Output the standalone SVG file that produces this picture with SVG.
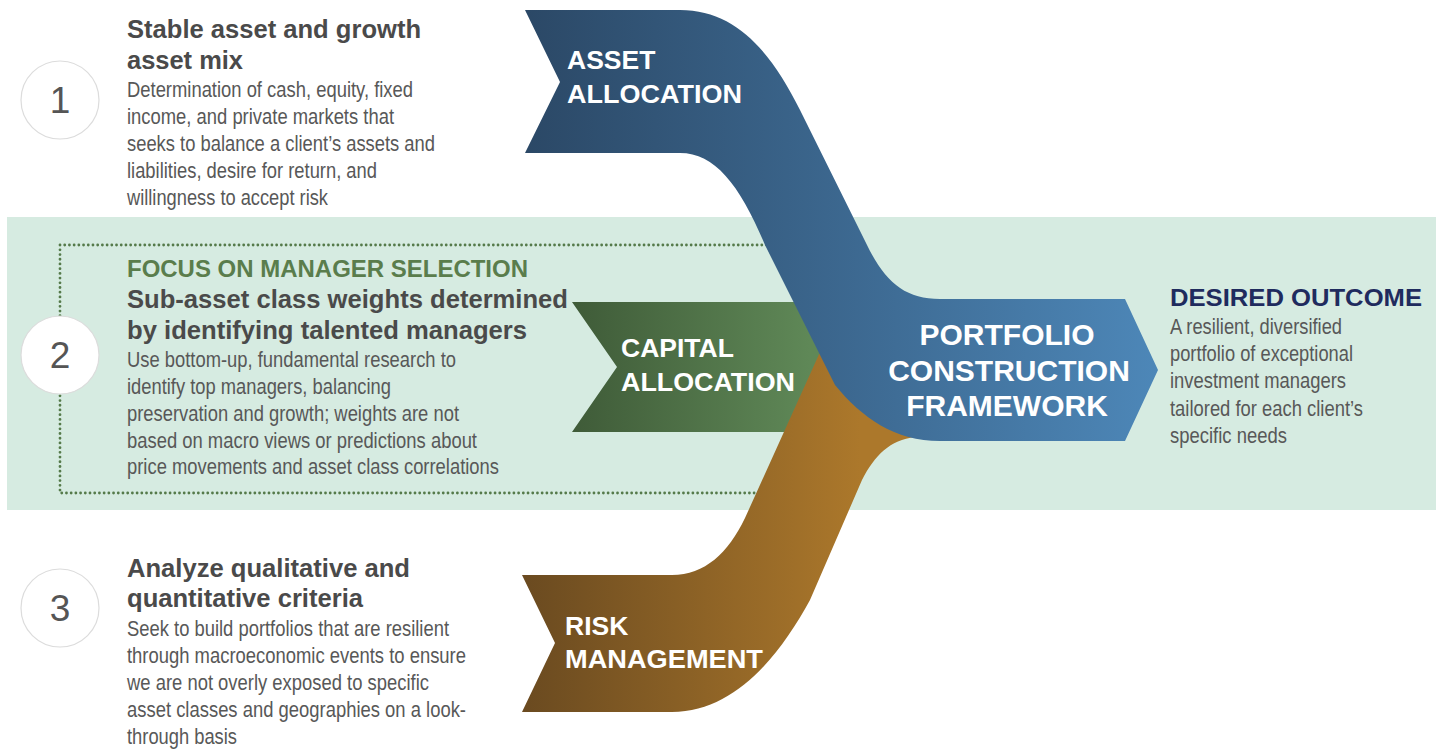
<svg xmlns="http://www.w3.org/2000/svg" width="1440" height="750" viewBox="0 0 1440 750">
<style>
.t{font-family:"Liberation Sans",Arial,sans-serif;font-weight:bold;font-size:25.5px;fill:#4a4a4a}
.b{font-family:"Liberation Sans",Arial,sans-serif;font-size:21.5px;fill:#585858}
.g{font-family:"Liberation Sans",Arial,sans-serif;font-weight:bold;font-size:23px;fill:#5a7d4c}
.d{font-family:"Liberation Sans",Arial,sans-serif;font-weight:bold;font-size:24px;fill:#1f2b5e}
.w{font-family:"Liberation Sans",Arial,sans-serif;font-weight:bold;font-size:26.5px;fill:#ffffff}
.p{font-family:"Liberation Sans",Arial,sans-serif;font-weight:bold;font-size:30px;fill:#ffffff;text-anchor:middle}
.n{font-family:"Liberation Sans",Arial,sans-serif;font-size:37px;fill:#555555;text-anchor:middle}
.c{fill:#ffffff;stroke:#dcdcdc;stroke-width:1.2}
</style>
<defs>
<linearGradient id="gBlue" gradientUnits="userSpaceOnUse" x1="525" y1="0" x2="1158" y2="0">
<stop offset="0" stop-color="#2b4866"/><stop offset="1" stop-color="#4d87b8"/>
</linearGradient>
<linearGradient id="gGreen" gradientUnits="userSpaceOnUse" x1="572" y1="0" x2="810" y2="0">
<stop offset="0" stop-color="#3f5b38"/><stop offset="1" stop-color="#5f8857"/>
</linearGradient>
<linearGradient id="gBrown" gradientUnits="userSpaceOnUse" x1="522" y1="0" x2="860" y2="0">
<stop offset="0" stop-color="#6a4a20"/><stop offset="1" stop-color="#ac782b"/>
</linearGradient>
</defs>
<rect width="1440" height="750" fill="#ffffff"/>
<rect id="band" x="7" y="217" width="1429" height="293" fill="#d6ebe1"/>
<rect id="focus-box" x="60" y="245" width="760" height="248" fill="none" stroke="#557a4a" stroke-width="2.8" stroke-linecap="round" stroke-dasharray="0.01 4.7"/>

<g id="step1">
<circle class="c" cx="60" cy="100" r="39"/>
<text class="n" x="60" y="113">1</text>
<text class="t" x="127" y="38" textLength="294" lengthAdjust="spacingAndGlyphs">Stable asset and growth</text>
<text class="t" x="127" y="69" textLength="116" lengthAdjust="spacingAndGlyphs">asset mix</text>
<text class="b" x="127" y="97" textLength="286" lengthAdjust="spacingAndGlyphs">Determination of cash, equity, fixed</text>
<text class="b" x="127" y="124" textLength="267" lengthAdjust="spacingAndGlyphs">income, and private markets that</text>
<text class="b" x="127" y="151" textLength="308" lengthAdjust="spacingAndGlyphs">seeks to balance a client’s assets and</text>
<text class="b" x="127" y="178" textLength="250" lengthAdjust="spacingAndGlyphs">liabilities, desire for return, and</text>
<text class="b" x="127" y="205" textLength="201" lengthAdjust="spacingAndGlyphs">willingness to accept risk</text>
</g>

<g id="step2">
<circle class="c" cx="60" cy="355" r="39"/>
<text class="n" x="60" y="368">2</text>
<text class="g" x="127" y="277" textLength="401" lengthAdjust="spacingAndGlyphs">FOCUS ON MANAGER SELECTION</text>
<text class="t" x="127" y="308" textLength="441" lengthAdjust="spacingAndGlyphs">Sub-asset class weights determined</text>
<text class="t" x="127" y="339" textLength="400" lengthAdjust="spacingAndGlyphs">by identifying talented managers</text>
<text class="b" x="127" y="367" textLength="329" lengthAdjust="spacingAndGlyphs">Use bottom-up, fundamental research to</text>
<text class="b" x="127" y="394" textLength="264" lengthAdjust="spacingAndGlyphs">identify top managers, balancing</text>
<text class="b" x="127" y="421" textLength="332" lengthAdjust="spacingAndGlyphs">preservation and growth; weights are not</text>
<text class="b" x="127" y="448" textLength="350" lengthAdjust="spacingAndGlyphs">based on macro views or predictions about</text>
<text class="b" x="127" y="474" textLength="372" lengthAdjust="spacingAndGlyphs">price movements and asset class correlations</text>
</g>

<g id="step3">
<circle class="c" cx="60" cy="608" r="39"/>
<text class="n" x="60" y="621">3</text>
<text class="t" x="127" y="577" textLength="283" lengthAdjust="spacingAndGlyphs">Analyze qualitative and</text>
<text class="t" x="127" y="607" textLength="236" lengthAdjust="spacingAndGlyphs">quantitative criteria</text>
<text class="b" x="127" y="636" textLength="322" lengthAdjust="spacingAndGlyphs">Seek to build portfolios that are resilient</text>
<text class="b" x="127" y="663" textLength="339" lengthAdjust="spacingAndGlyphs">through macroeconomic events to ensure</text>
<text class="b" x="127" y="690" textLength="302" lengthAdjust="spacingAndGlyphs">we are not overly exposed to specific</text>
<text class="b" x="127" y="717" textLength="339" lengthAdjust="spacingAndGlyphs">asset classes and geographies on a look-</text>
<text class="b" x="127" y="744" textLength="110" lengthAdjust="spacingAndGlyphs">through basis</text>
</g>

<g id="outcome">
<text class="d" x="1170" y="306" textLength="252" lengthAdjust="spacingAndGlyphs">DESIRED OUTCOME</text>
<text class="b" x="1170" y="334" textLength="172" lengthAdjust="spacingAndGlyphs">A resilient, diversified</text>
<text class="b" x="1170" y="361" textLength="183" lengthAdjust="spacingAndGlyphs">portfolio of exceptional</text>
<text class="b" x="1170" y="388" textLength="176" lengthAdjust="spacingAndGlyphs">investment managers</text>
<text class="b" x="1170" y="416" textLength="193" lengthAdjust="spacingAndGlyphs">tailored for each client’s</text>
<text class="b" x="1170" y="443" textLength="117" lengthAdjust="spacingAndGlyphs">specific needs</text>
</g>

<g id="capital-allocation">
<path d="M572 302 L860 302 L860 432 L572 432 L617 367 Z" fill="url(#gGreen)"/>
</g>

<g id="risk-management">
<path d="M522 575 L672 575 C705 575 728 553 745 518 L830 330 L900 330 L960 437 L915 437 C890 440 875 455 862 480 L810 600 C780 655 735 712 672 712 L522 712 L555 643 Z" fill="url(#gBrown)"/>
</g>

<g id="asset-allocation">
<path d="M525 10 L680 10 C735 10 770 50 800 110 L867 245 C885 282 905 299 940 299 L1125 299 L1158 370 L1125 441 L940 441 C895 441 862 418 835 385 L765 245 C740 185 715 153 680 153 L525 153 L560 82 Z" fill="url(#gBlue)"/>
</g>

<g id="labels">
<text class="w" x="567" y="69">ASSET</text>
<text class="w" x="567" y="103" textLength="175" lengthAdjust="spacingAndGlyphs">ALLOCATION</text>
<text class="w" x="621" y="357">CAPITAL</text>
<text class="w" x="621" y="391" textLength="174" lengthAdjust="spacingAndGlyphs">ALLOCATION</text>
<text class="w" x="565" y="635">RISK</text>
<text class="w" x="565" y="668" textLength="198" lengthAdjust="spacingAndGlyphs">MANAGEMENT</text>
<text class="p" x="1007" y="345">PORTFOLIO</text>
<text class="p" x="1009" y="381">CONSTRUCTION</text>
<text class="p" x="1007" y="416">FRAMEWORK</text>
</g>
</svg>
